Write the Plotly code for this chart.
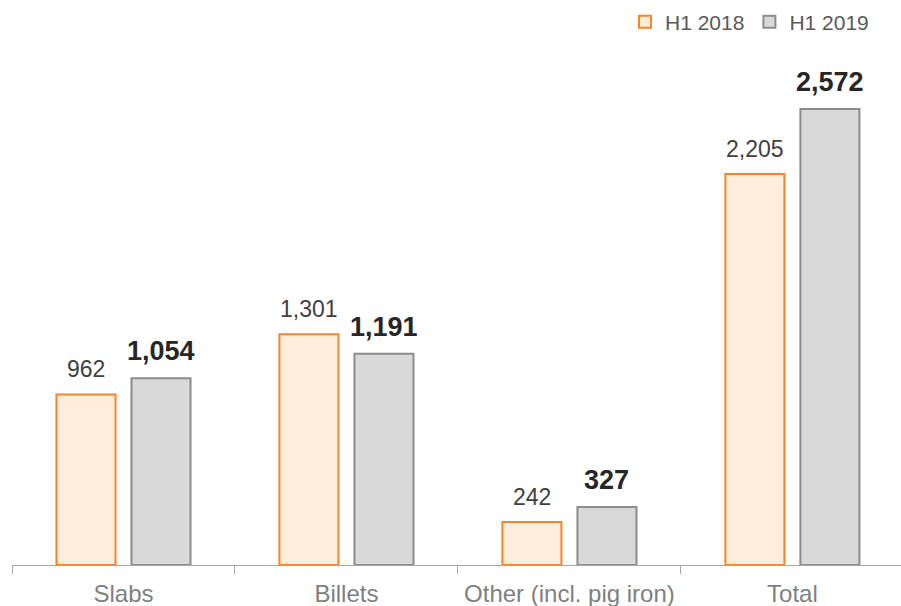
import plotly.graph_objects as go

categories = ["Slabs", "Billets", "Other (incl. pig iron)", "Total"]
h1_2018 = [962, 1301, 242, 2205]
h1_2019 = [1054, 1191, 327, 2572]
series_names = ["H1 2018", "H1 2019"]

FONT = "Liberation Sans, Arial, sans-serif"

fig = go.Figure()
fig.add_trace(go.Bar(
    x=categories, y=h1_2018, name=series_names[0],
    marker=dict(color="#FDEDDA", line=dict(color="#F7832A", width=2)),
))
fig.add_trace(go.Bar(
    x=categories, y=h1_2019, name=series_names[1],
    marker=dict(color="#D9D9D9", line=dict(color="#8C8C8C", width=2)),
))

# value labels above each bar
for cat, v in zip(categories, h1_2018):
    fig.add_annotation(x=cat, y=v, text=f"{v:,}", showarrow=False,
                       xanchor="center", yanchor="bottom", xshift=-37.5, yshift=10,
                       font=dict(family=FONT, size=23, color="#404040"))
for cat, v in zip(categories, h1_2019):
    fig.add_annotation(x=cat, y=v, text=f"<b>{v:,}</b>", showarrow=False,
                       xanchor="center", yanchor="bottom", xshift=37.5, yshift=10,
                       font=dict(family=FONT, size=27, color="#262626"))

fig.update_layout(
    width=901, height=606,
    margin=dict(l=12, r=0, t=0, b=41),
    paper_bgcolor="white", plot_bgcolor="white",
    barmode="group", bargap=0.327, bargroupgap=0.213,
    showlegend=True,
    legend=dict(orientation="h", x=0.9696, xanchor="right", y=0.961, yanchor="middle",
                font=dict(family=FONT, size=21, color="#595959"),
                itemwidth=30, traceorder="normal", bgcolor="rgba(0,0,0,0)"),
    xaxis=dict(range=[-0.5, 3.487], tickson="boundaries", ticks="outside",
               ticklen=8, tickcolor="#A6A6A6", tickwidth=1,
               showline=True, linecolor="#A6A6A6", linewidth=1,
               showgrid=False, ticklabelstandoff=7,
               tickfont=dict(family=FONT, size=24, color="#7F7F7F")),
    yaxis=dict(range=[0, 3187], visible=False, showgrid=False, zeroline=False),
)

fig.write_html("out.html")
